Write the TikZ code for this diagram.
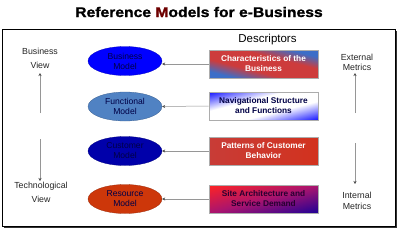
\documentclass[tikz,border=0pt]{standalone}
\usepackage{fontspec}
\setmainfont{Liberation Sans}
\newfontfamily\titlefont[FakeStretch=1.12,FakeBold=1.2]{Liberation Sans}
\usetikzlibrary{shapes.geometric,arrows.meta,calc}
\definecolor{cblue}{RGB}{60,110,200}
\definecolor{cred}{RGB}{205,60,60}
\definecolor{nblue}{RGB}{20,20,255}
\definecolor{nwhite}{RGB}{255,255,255}
\definecolor{sred}{RGB}{255,35,35}
\definecolor{sblue}{RGB}{30,0,150}
\definecolor{smid}{RGB}{170,20,110}
\definecolor{pred}{RGB}{200,60,55}
\definecolor{pred2}{RGB}{210,50,30}
\definecolor{navytext}{RGB}{0,0,70}
\definecolor{arrowgray}{RGB}{150,150,150}
\pgfdeclareverticalshading{brb}{100bp}{color(0bp)=(cblue); color(25bp)=(cblue); color(31bp)=(cblue); color(42bp)=(cred); color(58bp)=(cred); color(69bp)=(cblue); color(75bp)=(cblue); color(100bp)=(cblue)}
\pgfdeclareverticalshading{bwb}{100bp}{color(0bp)=(nblue); color(25bp)=(nblue); color(42bp)=(nwhite); color(58bp)=(nwhite); color(75bp)=(nblue); color(100bp)=(nblue)}
\pgfdeclareverticalshading{rsb}{100bp}{color(0bp)=(sblue); color(25bp)=(sblue); color(50bp)=(smid); color(75bp)=(sred); color(100bp)=(sred)}
\tikzset{
  model/.style={ellipse, minimum width=74pt, minimum height=29pt, inner sep=0pt, align=center,
    font=\fontsize{8.6}{10}\selectfont, text=navytext, draw=#1!75!black, fill=#1, line width=0.3pt},
  desc/.style={rectangle, minimum width=109pt, minimum height=28pt, inner sep=0pt, align=center,
    font=\fontsize{8.3}{10}\selectfont\bfseries, draw=gray!65, line width=0.6pt},
  diagshade/.style n args={3}{path picture={
    \shade[shading=#1, transform canvas={rotate around={#2:(path picture bounding box.center)}}]
      ($(path picture bounding box.center)+(-75,-#3)$) rectangle ($(path picture bounding box.center)+(75,#3)$);}},
  conn/.style={draw=arrowgray, line width=0.5pt, -{Stealth[length=3pt,width=3pt,color=black!70]}},
  side/.style={align=center, font=\fontsize{8.8}{10.5}\selectfont, text=black!85},
}
\begin{document}
\begin{tikzpicture}[x=1pt,y=-1pt]
\useasboundingbox (0,0) rectangle (400,234);
% title
\node (title) at (199,12) {\titlefont\fontsize{14}{15}\selectfont\bfseries Reference {\color[RGB]{110,0,0}M}odels for e-Business};
% frame with shadow
\fill[black!80] (4,31) rectangle (397,228);
\draw[black, line width=0.6pt, fill=white] (2,29) rectangle (395,226);
\node (descr) at (267.5,40) {\fontsize{11.5}{13}\selectfont Descriptors};
% ellipses
\definecolor{bmfill}{RGB}{0,0,255}
\definecolor{fmfill}{RGB}{80,130,195}
\definecolor{cmfill}{RGB}{0,0,170}
\definecolor{rmfill}{RGB}{205,55,10}
\node[model=bmfill] (bm) at (125,61) {Business\\Model};
\node[model=fmfill] (fm) at (125,106.5) {Functional\\Model};
\node[model=cmfill] (cm) at (125,151) {Customer\\Model};
\node[model=rmfill] (rm) at (125,199) {Resource\\Model};
% descriptor boxes
\node[desc, diagshade={brb}{-14.4}{27.1}, text=white] (d1) at (263.5,64) {Characteristics of the\\Business};
\node[desc, diagshade={bwb}{14.4}{27.1}, text=navytext] (d2) at (263.5,106) {Navigational Structure\\and Functions};
\node[desc, left color=pred, right color=pred2, text=white] (d3) at (263.5,151) {Patterns of Customer\\Behavior};
\node[desc, diagshade={rsb}{14.4}{27.1}, text={rgb,255:red,40;green,0;blue,50}] (d4) at (263.5,199) {Site Architecture and\\Service Demand};
% connectors
\draw[conn] (d1.west) -- (bm.east |- d1.west);
\draw[conn] (d2.west) -- (fm.east);
\draw[conn] (d3.west) -- (cm.east);
\draw[conn] (d4.west) -- (rm.east);
% side labels
\node[side, execute at begin node=\setlength{\baselineskip}{14pt}] (bv) at (40,58) {Business\\View};
\node[side, execute at begin node=\setlength{\baselineskip}{14pt}] (tv) at (41,192) {Technological\\View};
\node[side] (em) at (357,62.5) {External\\Metrics};
\node[side] (im) at (357,201) {Internal\\Metrics};
\coordinate (l1a) at (40,113); \coordinate (l1b) at (40,73);
\coordinate (l2a) at (40,139); \coordinate (l2b) at (40,181);
\coordinate (r1a) at (355,113); \coordinate (r1b) at (355,73);
\coordinate (r2a) at (355,143); \coordinate (r2b) at (355,184);
\draw[conn] (l1a) -- (l1b);
\draw[conn] (l2a) -- (l2b);
\draw[conn] (r1a) -- (r1b);
\draw[conn] (r2a) -- (r2b);
\end{tikzpicture}
\end{document}
